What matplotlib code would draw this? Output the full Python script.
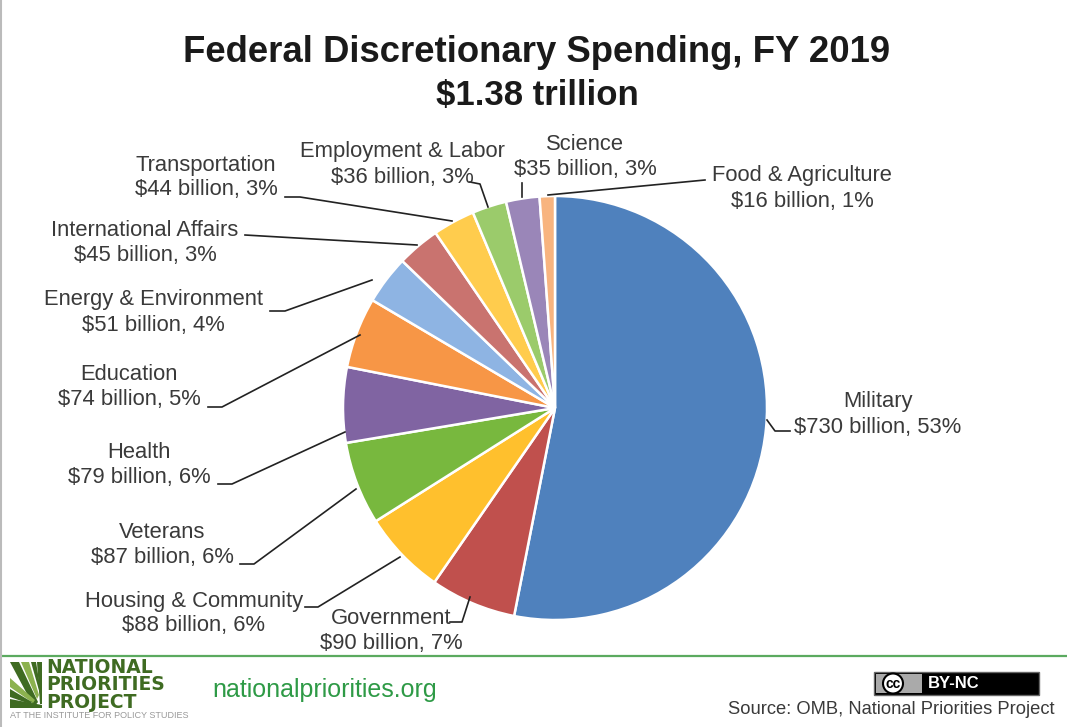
import matplotlib
matplotlib.use("Agg")
import matplotlib.pyplot as plt
from matplotlib.patches import Rectangle, Polygon, Circle

plt.rcParams["font.family"] = ["Liberation Sans", "DejaVu Sans"]

# Data, clockwise from 12 o'clock
categories = ["Military", "Government", "Housing & Community", "Veterans", "Health",
              "Education", "Energy & Environment", "International Affairs",
              "Transportation", "Employment & Labor", "Science", "Food & Agriculture"]
spending = [730, 90, 88, 87, 79, 74, 51, 45, 44, 36, 35, 16]
percents = [53, 7, 6, 6, 6, 5, 4, 3, 3, 3, 3, 1]
colors = ["#4F81BD", "#C0504D", "#FFC02D", "#78B83E", "#8064A2", "#F79646",
          "#8EB4E3", "#C9736F", "#FFCC4D", "#9BCB6B", "#9A86B8", "#F8B47F"]

# label centre x, first line y, leader line points
label_pos = [(878, 402), (391, 619), (194, 601), (162, 532), (139, 452),
             (129, 374), (153, 300), (145, 231), (206, 165), (402, 152),
             (585, 145), (802, 176)]
leaders = [[(767, 420), (775, 431), (790, 431)],
           [(470, 597), (462, 622), (450, 622)],
           [(400, 557), (318, 607), (305, 607)],
           [(356, 489), (254, 564), (240, 564)],
           [(345, 432), (232, 484), (218, 484)],
           [(360, 335), (222, 407), (208, 407)],
           [(372, 280), (285, 311), (270, 311)],
           [(417, 245), (245, 235)],
           [(452, 221), (300, 197), (285, 197)],
           [(488, 207), (480, 184), (470, 182)],
           [(522, 197), (522, 183)],
           [(548, 195), (705, 180)]]

W, H = 1067, 727
text_col = "#3a3a3a"
fig = plt.figure(figsize=(W / 100, H / 100), dpi=100)

# Pie
R = 212
cx, cy = 555, 408
pie_ax = fig.add_axes([(cx - R - 2) / W, 1 - (cy + R + 2) / H, (2 * R + 4) / W, (2 * R + 4) / H])
pie_ax.pie(spending, colors=colors, startangle=90, counterclock=False, radius=R,
           wedgeprops=dict(edgecolor="white", linewidth=1.8))
pie_ax.set_xlim(-R - 2, R + 2)
pie_ax.set_ylim(-R - 2, R + 2)

# Overlay in pixel coordinates for text and furniture
ax = fig.add_axes([0, 0, 1, 1], zorder=3)
ax.set_xlim(0, W)
ax.set_ylim(H, 0)
ax.axis("off")

ax.text(537, 53, "Federal Discretionary Spending, FY 2019", ha="center", va="center",
        fontsize=26.3, fontweight="bold", color="#1a1a1a")
ax.text(537, 96, "$1.38 trillion", ha="center", va="center",
        fontsize=25, fontweight="bold", color="#1a1a1a")

for i, cat in enumerate(categories):
    x, y = label_pos[i]
    ax.text(x, y, cat, ha="center", va="center", fontsize=15.8, color=text_col)
    ax.text(x, y + 25, f"${spending[i]} billion, {percents[i]}%", ha="center", va="center",
            fontsize=15.8, color=text_col)
    xs, ys = zip(*leaders[i])
    ax.plot(xs, ys, color="#222222", lw=1.2)

# Footer
ax.plot([0, W], [656, 656], color="#5BAA5F", lw=1.6)
ax.plot([0.5, 0.5], [0, H], color="#bbbbbb", lw=1.5)

# Logo
rays = [([(10, 662), (19, 662), (38, 702), (34, 707)], "#3F6B22"),
        ([(21, 662), (29, 662), (39, 695), (37, 699)], "#8CB24F"),
        ([(31, 662), (36, 662), (41, 692), (40, 694)], "#3F6B22"),
        ([(10, 678), (10, 687), (33, 703), (35, 700)], "#8CB24F"),
        ([(10, 689), (10, 697), (30, 704), (32, 702)], "#3F6B22"),
        ([(10, 699), (10, 708), (42, 708), (42, 705)], "#3F6B22"),
        ([(37, 662), (42, 662), (42, 704), (40, 704)], "#3F6B22")]
for pts, col in rays:
    ax.add_patch(Polygon(pts, closed=True, color=col, lw=0))
ax.text(46, 685, "NATIONAL\nPRIORITIES\nPROJECT", ha="left", va="center", fontsize=13.5,
        fontweight="bold", family="DejaVu Sans", color="#3F6B22", linespacing=0.88)
ax.text(10, 716, "AT THE INSTITUTE FOR POLICY STUDIES", ha="left", va="center",
        fontsize=6.5, color="#999999")
ax.text(212, 690, "nationalpriorities.org", ha="left", va="center", fontsize=18, color="#2E9A46")

# CC badge
ax.add_patch(Rectangle((874, 672), 165, 23, facecolor="black", edgecolor="#666666", lw=1))
ax.add_patch(Rectangle((876, 674), 46, 19, facecolor="#aaaaaa", lw=0))
ax.add_patch(Circle((893, 683.5), 10, facecolor="white", edgecolor="black", lw=1.5))
ax.text(893, 683.5, "cc", ha="center", va="center", fontsize=10, fontweight="bold", color="black")
ax.text(928, 684, "BY-NC", ha="left", va="center", fontsize=12, fontweight="bold", color="white")
ax.text(1055, 710, "Source: OMB, National Priorities Project", ha="right", va="center",
        fontsize=13.25, color=text_col)

fig.savefig("out.png", dpi=100)
